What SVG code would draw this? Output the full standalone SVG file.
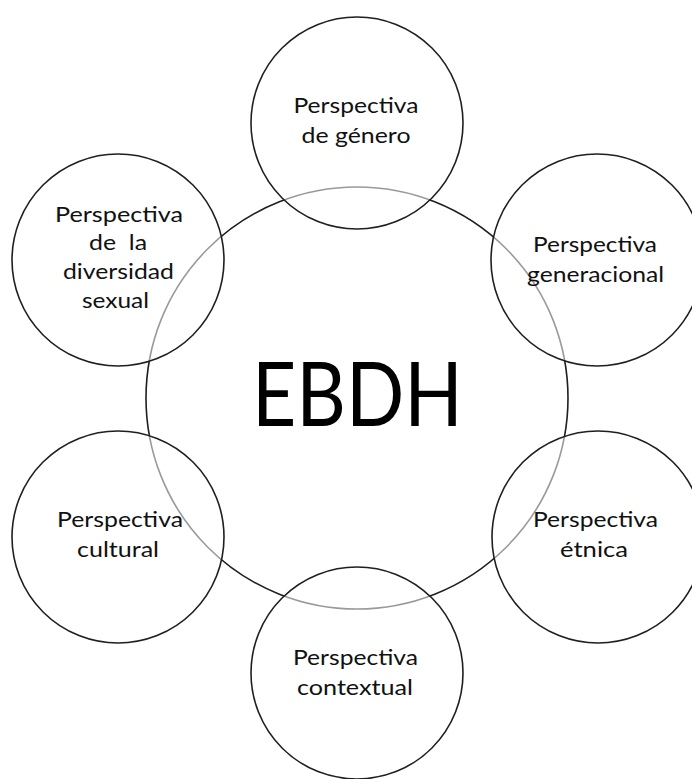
<svg xmlns="http://www.w3.org/2000/svg" width="692" height="779" viewBox="0 0 692 779">
<style>
.bg{fill:#ffffff}
.ring{fill:#ffffff;fill-opacity:0.55;stroke:#1f1f1f;stroke-width:1.6}
.core{fill:#ffffff;stroke:#1f1f1f;stroke-width:1.6}
.lbl{font-family:Lato,"Open Sans","Liberation Sans",sans-serif;font-size:21px;fill:#111111;text-anchor:middle;white-space:pre}
.big{font-family:Lato,"Open Sans","Liberation Sans",sans-serif;font-size:89px;fill:#000000;text-anchor:middle}
</style>
<rect class="bg" x="0" y="0" width="692" height="779"/>
<g id="ebdh">
<circle class="core" cx="357" cy="398" r="211"/>
<text class="big" x="357.5" y="426" textLength="211" lengthAdjust="spacingAndGlyphs">EBDH</text>
</g>
<g id="genero">
<circle class="ring" cx="357" cy="123" r="106"/>
<text class="lbl" x="356" y="112.5" textLength="125" lengthAdjust="spacingAndGlyphs">Perspectiva</text>
<text class="lbl" x="356" y="143" textLength="109" lengthAdjust="spacingAndGlyphs">de género</text>
</g>
<g id="generacional">
<circle class="ring" cx="597" cy="260" r="106"/>
<text class="lbl" x="595" y="251.5" textLength="124" lengthAdjust="spacingAndGlyphs">Perspectiva</text>
<text class="lbl" x="595.5" y="281.5" textLength="137" lengthAdjust="spacingAndGlyphs">generacional</text>
</g>
<g id="diversidad">
<circle class="ring" cx="118" cy="260" r="106"/>
<text class="lbl" x="119" y="221.5" textLength="128" lengthAdjust="spacingAndGlyphs">Perspectiva</text>
<text class="lbl" x="118" y="250" textLength="58" lengthAdjust="spacingAndGlyphs" xml:space="preserve">de  la</text>
<text class="lbl" x="118.5" y="279" textLength="111" lengthAdjust="spacingAndGlyphs">diversidad</text>
<text class="lbl" x="115.5" y="308" textLength="67" lengthAdjust="spacingAndGlyphs">sexual</text>
</g>
<g id="cultural">
<circle class="ring" cx="118" cy="537" r="106"/>
<text class="lbl" x="120" y="526.5" textLength="126" lengthAdjust="spacingAndGlyphs">Perspectiva</text>
<text class="lbl" x="118" y="556.5" textLength="82" lengthAdjust="spacingAndGlyphs">cultural</text>
</g>
<g id="etnica">
<circle class="ring" cx="598" cy="537" r="106"/>
<text class="lbl" x="595.5" y="526.5" textLength="125" lengthAdjust="spacingAndGlyphs">Perspectiva</text>
<text class="lbl" x="594" y="556.5" textLength="68" lengthAdjust="spacingAndGlyphs">étnica</text>
</g>
<g id="contextual">
<circle class="ring" cx="357" cy="673" r="106"/>
<text class="lbl" x="355.5" y="665" textLength="125" lengthAdjust="spacingAndGlyphs">Perspectiva</text>
<text class="lbl" x="355" y="695" textLength="116" lengthAdjust="spacingAndGlyphs">contextual</text>
</g>
</svg>
